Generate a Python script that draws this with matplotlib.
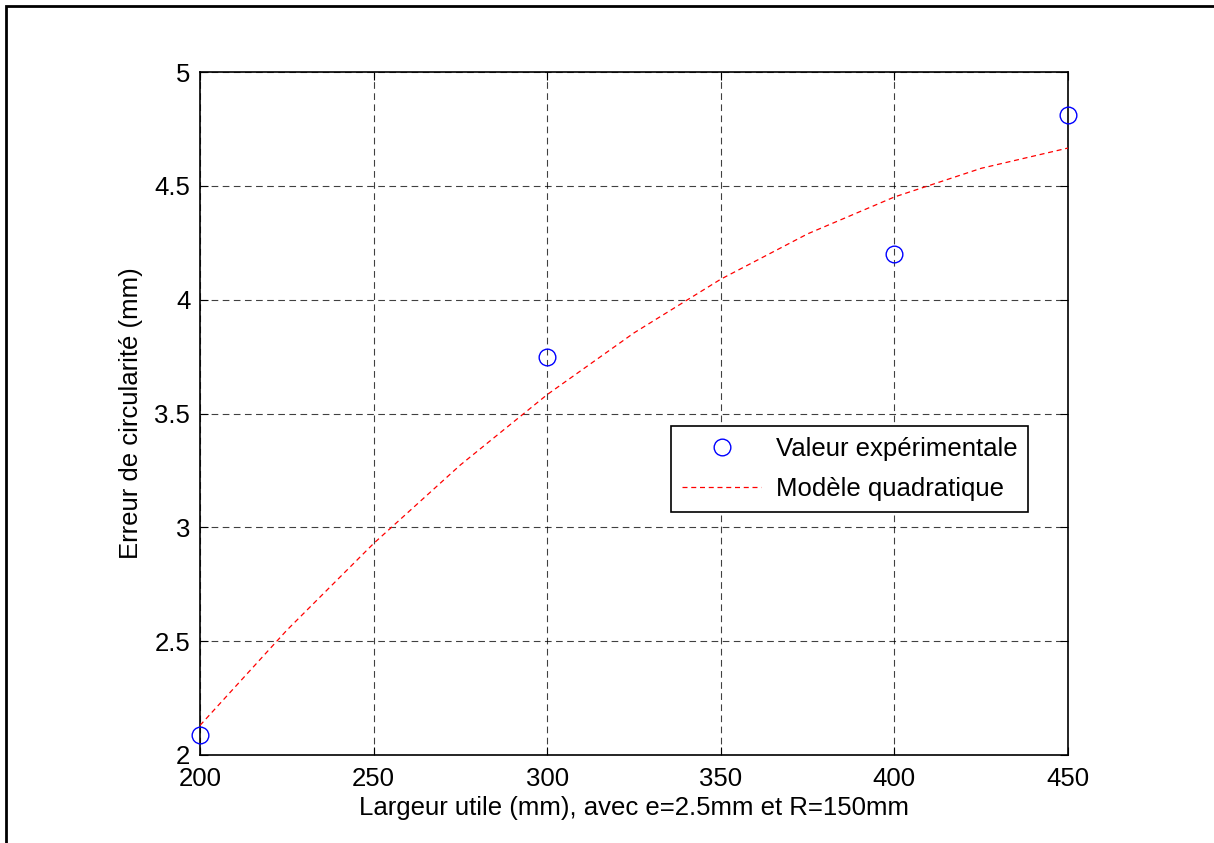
import matplotlib
matplotlib.use("Agg")
import matplotlib.pyplot as plt
from matplotlib.patches import Rectangle

plt.rcParams['font.family'] = ['Liberation Sans', 'DejaVu Sans']

# mesures
largeur = [200, 300, 400, 450]
erreur = [2.09, 3.75, 4.20, 4.81]

# modèle quadratique
largeur_modele = [200, 225, 250, 275, 300, 325, 350, 375, 400, 425, 450]
erreur_modele = [2.130, 2.548, 2.929, 3.274, 3.583, 3.854, 4.090, 4.289, 4.451, 4.577, 4.666]

xticks = [200, 250, 300, 350, 400, 450]
yticks = [2, 2.5, 3, 3.5, 4, 4.5, 5]

fig = plt.figure(figsize=(12.14, 8.43), dpi=100)
# cadre autour de la figure
fig.patches.append(Rectangle((6 / 1214, -0.1), 1.2, (843 - 6) / 843 + 0.1,
                             transform=fig.transFigure, fill=False,
                             edgecolor='black', linewidth=2))

ax = fig.add_axes([200 / 1214, 88 / 843, 868 / 1214, 683 / 843])
ax.plot(largeur, erreur, 'o', color='blue', markerfacecolor='none',
        markersize=12, markeredgewidth=1, label='Valeur expérimentale',
        zorder=3, clip_on=False)
ax.plot(largeur_modele, erreur_modele, '--', color='red', linewidth=0.9,
        dashes=(4, 3), label='Modèle quadratique', zorder=3)

ax.set_xlim(200, 450)
ax.set_ylim(2, 5)
ax.set_xticks(xticks)
ax.set_yticks(yticks)
ax.set_yticklabels(['2', '2.5', '3', '3.5', '4', '4.5', '5'])
ax.tick_params(direction='in', top=True, right=True, labelsize=18.5, length=6)
ax.tick_params(axis='x', pad=9)
ax.tick_params(axis='y', pad=7)
ax.grid(True, color='black', linestyle=(0, (6, 4)), linewidth=0.8, alpha=0.75)
for s in ax.spines.values():
    s.set_linewidth(1.2)

ax.set_xlabel('Largeur utile (mm), avec e=2.5mm et R=150mm', fontsize=18.5, labelpad=3)
ax.set_ylabel('Erreur de circularité (mm)', fontsize=18.5, labelpad=8)

leg = ax.legend(loc='upper left', bbox_to_anchor=(0.5426, 0.4817), fontsize=18.5,
                fancybox=False, edgecolor='black', framealpha=1, borderaxespad=0,
                handlelength=3.1, labelspacing=0.62, borderpad=0.42, handletextpad=0.55)
leg.get_frame().set_linewidth(1.2)

fig.savefig('out.png', dpi=100)
plt.close()
